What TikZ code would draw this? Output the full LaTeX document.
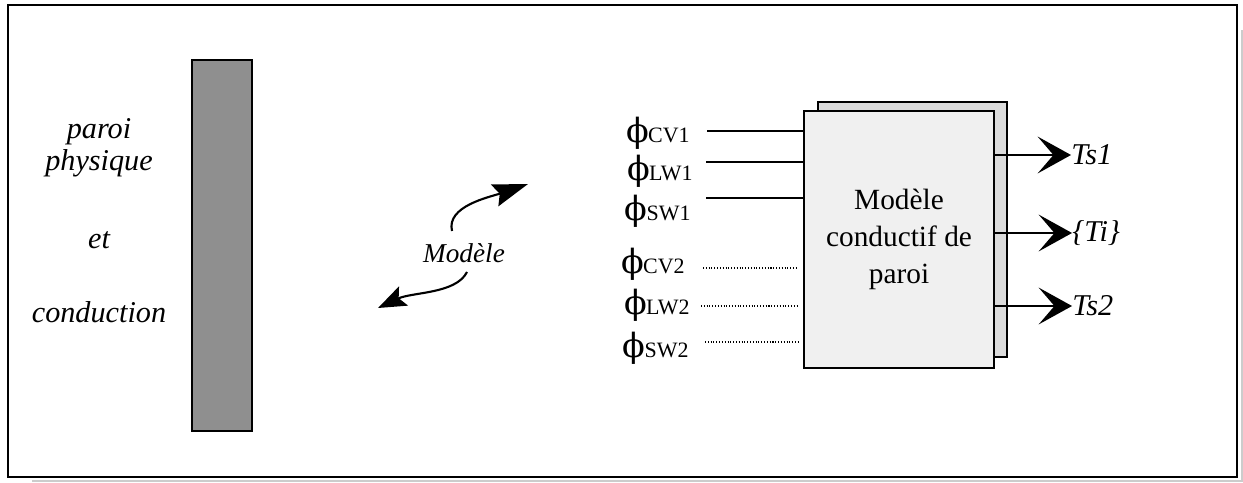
\documentclass[tikz,border=0pt]{standalone}
\usepackage{fontspec}
\setmainfont{Liberation Serif}
\newfontfamily\phifont{DejaVu Serif}
\usetikzlibrary{arrows.meta,positioning}
\tikzset{%
  >={Stealth[length=19pt,width=21pt,inset=9pt]},
  % Specifications for style of nodes and lines:
       frametop/.style = {draw=black, line width=1.1pt},
     framelight/.style = {draw=black!20, line width=1.2pt},
           wall/.style = {rectangle, draw=black, line width=0.8pt, fill=black!44,
                          minimum width=1.2cm, minimum height=7.42cm},
            txt/.style = {anchor=base, inner sep=0pt,
                          font=\fontsize{17.2}{20}\selectfont\itshape},
         modtxt/.style = {anchor=base, inner sep=0pt,
                          font=\fontsize{15.5}{18}\selectfont\itshape},
       backpage/.style = {rectangle, draw=black, line width=0.8pt, fill=black!14,
                          minimum width=3.78cm, minimum height=5.1cm},
      frontpage/.style = {rectangle, draw=black, line width=0.8pt, fill=black!6,
                          minimum width=3.8cm, minimum height=5.14cm, align=center,
                          font=\fontsize{16.7}{21}\selectfont},
           flux/.style = {anchor=east, inner sep=0pt,
                          font=\fontsize{20}{20}\selectfont},
         outtxt/.style = {anchor=west, inner sep=0pt,
                          font=\fontsize{17.2}{20}\selectfont\itshape},
         solidin/.style = {line width=1.1pt},
         dotin/.style = {line width=0.6pt, densely dotted},
         outline/.style = {line width=1.1pt},
       swoopup/.style = {line width=1.2pt,
                          -{Stealth[length=20pt,width=13pt,inset=3pt]}},
       swoopdn/.style = {line width=1.2pt,
                          -{Stealth[length=16pt,width=12pt,inset=3pt]}}
}
\newcommand{\fluxlabel}[1]{{\phifont\fontsize{19}{19}\selectfont ϕ}\kern-0.5pt{\fontsize{12.5}{12}\selectfont #1}}

\begin{document}
\begin{tikzpicture}[x=0.02cm, y=-0.02cm]
  \useasboundingbox (0,0) rectangle (1243,483);
  % Frame with its light shadow
  \draw[framelight] (32,481) -- (1242,481) -- (1242,30);
  \draw[frametop] (8,5) rectangle (1237,477);

  % Physical wall
  \node (wall) [wall] at (222,245.5) {};
  \node (paroi)    [txt] at (99,138) {paroi};
  \node (physique) [txt] at (99,170) {physique};
  \node (et)       [txt] at (99,248) {et};
  \node (conduc)   [txt] at (99,322) {conduction};

  % Model link
  \node (modele) [modtxt] at (464,262) {Modèle};
  \coordinate (mtop)  at (452,231);
  \coordinate (mbot)  at (467,272);
  \coordinate (tipup) at (528,184);
  \coordinate (tipdn) at (378,308);
  \draw[swoopup] (mtop) .. controls (446,206) and (490,197) .. (tipup);
  \draw[swoopdn] (mbot) .. controls (456,294) and (412,292) .. (tipdn);

  % Conduction model block
  \node (back)  [backpage]  at (912.5,229.5) {};
  \node (front) [frontpage] at (899,239.5) {Modèle\\conductif de\\paroi};

  % Inputs
  \node (cv1) [flux] at (690,133) {\fluxlabel{CV1}};
  \node (lw1) [flux] at (693,171) {\fluxlabel{LW1}};
  \node (sw1) [flux] at (691,211) {\fluxlabel{SW1}};
  \node (cv2) [flux] at (685,264) {\fluxlabel{CV2}};
  \node (lw2) [flux] at (690,305) {\fluxlabel{LW2}};
  \node (sw2) [flux] at (689,348) {\fluxlabel{SW2}};

  \coordinate (in1) at (707,131);
  \coordinate (in2) at (706,162);
  \coordinate (in3) at (706,198);
  \coordinate (in4) at (703,268);
  \coordinate (in5) at (701,306);
  \coordinate (in6) at (705,342);
  \draw[solidin] (in1) -- (in1 -| front.west);
  \draw[solidin] (in2) -- (in2 -| front.west);
  \draw[solidin] (in3) -- (in3 -| front.west);
  \draw[dotin] (in4) -- ([xshift=-0.1cm]in4 -| front.west);
  \draw[dotin] (in5) -- ([xshift=-0.1cm]in5 -| front.west);
  \draw[dotin] (in6) -- ([xshift=-0.1cm]in6 -| front.west);

  % Outputs
  \node (ts1) [outtxt] at (1071,155) {Ts1};
  \node (ti)  [outtxt] at (1072,233) {\{Ti\}};
  \node (ts2) [outtxt] at (1072,306) {Ts2};

  \draw[->, outline] (front.east |- ts1.west) -- (ts1.west);
  \draw[->, outline] (front.east |- ti.west) -- (ti.west);
  \draw[->, outline] (front.east |- ts2.west) -- (ts2.west);
\end{tikzpicture}
\end{document}
